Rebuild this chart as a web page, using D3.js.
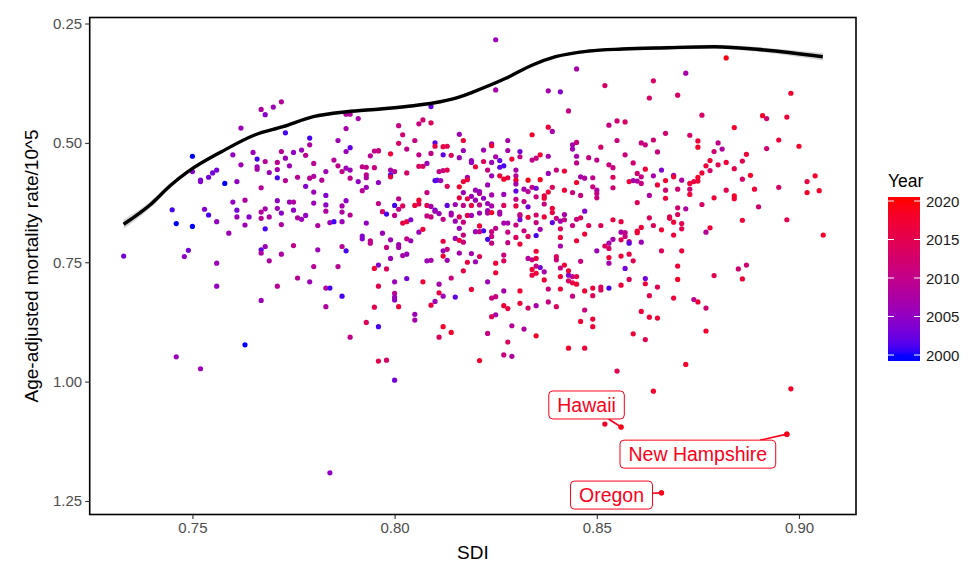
<!DOCTYPE html>
<html>
<head>
<meta charset="utf-8">
<script src="https://cdn.jsdelivr.net/npm/d3@7"></script>
<style>
  body { margin: 0; background: #fff; }
  svg { font-family: "Liberation Sans", Arial, sans-serif; }
</style>
</head>
<body>
<svg id="chart" width="972" height="571"></svg>
<script>
// one row per state-year: [SDI, age-adjusted mortality rate /10^5, year]
const stateYears = [
  [0.767,0.430,2008],[0.770,0.425,2006],[0.768,0.441,2004],[0.772,0.414,2009],[0.762,0.469,2006],
  [0.750,0.528,2000],[0.760,0.525,2005],[0.765,0.520,2006],[0.766,0.534,2001],[0.768,0.539,2009],
  [0.772,0.518,2009],[0.771,0.541,2009],[0.762,0.546,2006],[0.766,0.550,2006],[0.766,0.555,2007],
  [0.769,0.562,2006],[0.771,0.556,2007],[0.771,0.573,2001],[0.750,0.560,2004],[0.756,0.557,2003],
  [0.755,0.563,2003],[0.754,0.572,2003],[0.752,0.578,2003],[0.758,0.585,2000],[0.761,0.581,2005],
  [0.773,0.479,2001],
  [0.773,0.532,2006],[0.774,0.548,2006],[0.773,0.579,2009],[0.775,0.520,2005],[0.776,0.572,2009],
  [0.777,0.515,2006],[0.778,0.526,2009],[0.779,0.490,2001],[0.779,0.504,2008],[0.780,0.543,2009],
  [0.779,0.574,2009],[0.780,0.570,2008],[0.782,0.578,2009],[0.783,0.560,2006],[0.785,0.536,2009],
  [0.786,0.495,2006],[0.786,0.548,2010],[0.787,0.560,2010],[0.788,0.518,2006],[0.789,0.510,2002],
  [0.788,0.553,2006],[0.789,0.557,2006],[0.789,0.574,2010],[0.788,0.440,2009],[0.789,0.440,2008],
  [0.788,0.470,2007],[0.791,0.449,2007],[0.791,0.581,2005],[0.792,0.550,2010],[0.793,0.567,2010],
  [0.793,0.573,2008],[0.793,0.551,2010],[0.794,0.527,2009],[0.795,0.517,2010],[0.795,0.552,2011],
  [0.796,0.516,2010],[0.796,0.517,2011],[0.796,0.583,2005],[0.799,0.523,2017],[0.799,0.557,2007],
  [0.800,0.560,2009],[0.799,0.567,2001],[0.799,0.571,2016],[0.801,0.464,2011],[0.802,0.483,2012],
  [0.801,0.501,2013],[0.803,0.563,2013],[0.803,0.513,2010],[0.805,0.495,2011],[0.806,0.460,2011],
  [0.807,0.452,2012],[0.809,0.458,2014],[0.809,0.424,2002],[0.806,0.525,2010],[0.806,0.549,2014],
  [0.807,0.549,2013],[0.808,0.543,2006],[0.810,0.500,2002],[0.809,0.522,2010],[0.810,0.507,2016],
  [0.812,0.508,2016],[0.813,0.507,2015],[0.812,0.525,2002],[0.814,0.526,2014],[0.811,0.560,2010],
  [0.812,0.558,2011],[0.813,0.557,2015],[0.810,0.579,2001],[0.8105,0.578,2002],[0.8114,0.579,2006],
  [0.816,0.482,2006],[0.817,0.495,2017],[0.817,0.516,2006],[0.816,0.531,2006],[0.819,0.537,2006],
  [0.819,0.541,2005],[0.820,0.550,2017],[0.818,0.572,2006],[0.818,0.577,2016],[0.817,0.581,2017],
  [0.825,0.284,2006],[0.825,0.389,2007],[0.845,0.345,2007],[0.852,0.380,2013],[0.864,0.370,2013],
  [0.863,0.406,2013],[0.838,0.391,2007],[0.841,0.393,2004],[0.843,0.433,2010],[0.853,0.463,2011],
  [0.855,0.454,2012],[0.857,0.456,2013],[0.834,0.483,2018],[0.838,0.467,2017],[0.839,0.476,2007],
  [0.828,0.495,2007],[0.824,0.502,2007],[0.824,0.506,2017],[0.822,0.515,2006],[0.828,0.516,2007],
  [0.831,0.518,2003],[0.825,0.529,2007],[0.826,0.537,2002],[0.824,0.541,2006],[0.822,0.539,2014],
  [0.827,0.548,2001],[0.826,0.551,2002],[0.829,0.534,2017],[0.831,0.529,2010],[0.834,0.536,2010],
  [0.835,0.532,2011],[0.836,0.525,2017],[0.838,0.528,2007],[0.823,0.557,2011],[0.824,0.569,2006],
  [0.826,0.569,2017],[0.830,0.557,2007],[0.830,0.569,2009],[0.827,0.576,2018],[0.828,0.573,2016],
  [0.830,0.578,2018],[0.833,0.578,2019],[0.836,0.577,2019],[0.838,0.564,2006],[0.840,0.557,2011],
  [0.842,0.559,2017],[0.844,0.504,2007],[0.844,0.513,2006],[0.845,0.499,2011],[0.845,0.528,2007],
  [0.845,0.542,2010],[0.848,0.531,2011],[0.850,0.536,2010],[0.851,0.509,2013],[0.853,0.546,2011],
  [0.854,0.552,2011],[0.855,0.495,2011],[0.857,0.525,2011],[0.859,0.542,2012],[0.861,0.500,2011],
  [0.862,0.504,2011],[0.864,0.494,2012],[0.865,0.519,2011],[0.867,0.480,2012],[0.866,0.557,2004],
  [0.862,0.555,2017],[0.860,0.564,2012],[0.861,0.571,2011],[0.864,0.569,2007],[0.846,0.571,2007],
  [0.847,0.574,2008],[0.849,0.573,2010],[0.854,0.572,2014],[0.858,0.581,2017],[0.859,0.579,2007],
  [0.860,0.580,2008],[0.861,0.585,2011],[0.845,0.583,2018],[0.867,0.579,2018],
  [0.882,0.322,2019],[0.872,0.354,2007],[0.870,0.400,2013],[0.898,0.396,2018],[0.876,0.442,2013],
  [0.891,0.443,2018],[0.892,0.449,2012],[0.897,0.446,2017],[0.884,0.468,2018],[0.873,0.484,2013],
  [0.875,0.496,2017],[0.875,0.509,2018],[0.880,0.500,2010],[0.881,0.513,2008],[0.879,0.518,2012],
  [0.887,0.524,2017],[0.886,0.538,2015],[0.895,0.494,2017],[0.892,0.512,2012],[0.900,0.507,2018],
  [0.878,0.537,2017],[0.877,0.548,2017],[0.878,0.558,2013],[0.880,0.546,2015],[0.882,0.541,2017],
  [0.884,0.554,2015],[0.876,0.563,2017],[0.875,0.572,2018],[0.875,0.580,2017],[0.874,0.581,2016],
  [0.869,0.568,2006],[0.869,0.571,2017],[0.871,0.578,2008],[0.888,0.568,2018],[0.886,0.576,2013],
  [0.904,0.569,2018],[0.902,0.581,2016],
  [0.745,0.640,2001],[0.746,0.669,2000],[0.750,0.675,2000],[0.733,0.737,2003],[0.749,0.725,2003],
  [0.748,0.738,2005],[0.752,0.581,2004],[0.767,0.594,2009],[0.753,0.639,2004],[0.754,0.651,2001],
  [0.756,0.665,2005],[0.759,0.689,2006],[0.760,0.624,2005],[0.761,0.641,2003],[0.763,0.620,2008],
  [0.761,0.655,2006],[0.764,0.655,2004],[0.763,0.672,2006],[0.768,0.638,2007],[0.767,0.645,2008],
  [0.767,0.658,2009],[0.769,0.655,2008],[0.771,0.637,2006],[0.771,0.621,2005],[0.772,0.647,2004],
  [0.772,0.671,2008],[0.768,0.680,2001],[0.768,0.717,2006],[0.767,0.724,2002],[0.767,0.731,2008],
  [0.769,0.747,2008],[0.772,0.733,2008],[0.756,0.752,2006],[0.756,0.800,2005],[0.771,0.800,2009],
  [0.767,0.830,2006],[0.763,0.923,2000],
  [0.778,0.591,2004],[0.780,0.603,2006],[0.783,0.610,2004],[0.774,0.624,2006],[0.775,0.624,2008],
  [0.775,0.641,2005],[0.780,0.626,2006],[0.783,0.630,2005],[0.783,0.643,2008],[0.787,0.632,2007],
  [0.787,0.645,2008],[0.788,0.621,2005],[0.776,0.657,2008],[0.777,0.660,2006],[0.778,0.652,2005],
  [0.781,0.673,2008],[0.784,0.667,2006],[0.785,0.665,2001],[0.787,0.665,2006],[0.789,0.651,2009],
  [0.792,0.600,2009],[0.793,0.593,2006],[0.796,0.627,2010],[0.793,0.668,2005],[0.797,0.644,2013],
  [0.798,0.649,2001],[0.800,0.631,2001],[0.801,0.639,2010],[0.802,0.632,2014],[0.801,0.617,2010],
  [0.800,0.652,2010],[0.802,0.668,2016],[0.803,0.665,2016],[0.804,0.661,2004],[0.805,0.631,2017],
  [0.806,0.620,2018],[0.806,0.628,2015],[0.808,0.604,2011],[0.808,0.631,2015],[0.809,0.633,2007],
  [0.810,0.641,2002],[0.810,0.643,2006],[0.808,0.653,2011],[0.809,0.655,2011],[0.811,0.648,2006],
  [0.813,0.591,2014],[0.816,0.592,2018],[0.817,0.604,2006],[0.816,0.615,2016],[0.818,0.617,2016],
  [0.813,0.631,2002],[0.815,0.629,2006],[0.817,0.631,2010],[0.819,0.612,2006],[0.819,0.631,2016],
  [0.814,0.647,2006],[0.814,0.651,2007],[0.816,0.655,2014],[0.818,0.652,2016],[0.819,0.652,2006],
  [0.812,0.660,2010],[0.815,0.664,2006],[0.817,0.666,2011],[0.820,0.686,2006],[0.816,0.679,2006],
  [0.817,0.693,2011],[0.815,0.700,2006],[0.816,0.704,2017],[0.817,0.708,2011],[0.812,0.706,2016],
  [0.813,0.723,2011],[0.812,0.726,2006],[0.812,0.737,2017],[0.813,0.746,2006],[0.816,0.731,2007],
  [0.819,0.732,2007],[0.818,0.750,2016],[0.820,0.749,2006],[0.817,0.768,2016],[0.814,0.783,2011],
  [0.819,0.807,2017],[0.815,0.823,2002],[0.811,0.814,2016],[0.812,0.821,2006],[0.810,0.832,2006],
  [0.809,0.840,2016],[0.811,0.796,2007],[0.807,0.791,2017],[0.812,0.885,2018],[0.814,0.897,2018],
  [0.811,0.907,2014],[0.805,0.859,2006],[0.805,0.871,2007],[0.803,0.784,2003],[0.806,0.687,2006],
  [0.807,0.681,2017],[0.804,0.705,2006],[0.803,0.701,2010],[0.801,0.713,2006],[0.801,0.719,2007],
  [0.798,0.719,2011],[0.799,0.703,2006],[0.797,0.689,2006],[0.792,0.695,2004],[0.792,0.701,2004],
  [0.794,0.710,2010],[0.794,0.705,2010],[0.802,0.736,2007],[0.803,0.733,2006],[0.799,0.742,2006],
  [0.808,0.747,2006],[0.809,0.746,2007],[0.796,0.756,2004],[0.795,0.763,2017],[0.798,0.764,2014],
  [0.800,0.791,2006],[0.796,0.800,2015],[0.800,0.815,2009],[0.800,0.823,2006],[0.800,0.829,2005],
  [0.801,0.843,2017],[0.795,0.844,2015],[0.793,0.876,2014],[0.796,0.885,2001],[0.789,0.907,2010],
  [0.787,0.717,2009],[0.788,0.726,2001],[0.781,0.724,2006],[0.775,0.715,2010],[0.780,0.759,2009],
  [0.786,0.759,2009],[0.776,0.783,2009],[0.779,0.791,2006],[0.783,0.804,2009],[0.784,0.804,2001],
  [0.787,0.821,2001],[0.783,0.843,2008],
  [0.823,0.588,2006],[0.820,0.599,2006],[0.821,0.606,2010],[0.821,0.602,2006],[0.820,0.620,2006],
  [0.822,0.616,2005],[0.824,0.609,2007],[0.823,0.627,2006],[0.824,0.632,2007],[0.821,0.630,2010],
  [0.821,0.647,2006],[0.823,0.642,2006],[0.823,0.647,2007],[0.824,0.646,2018],[0.826,0.645,2007],
  [0.826,0.649,2007],[0.827,0.631,2014],[0.827,0.608,2006],[0.830,0.586,2007],[0.830,0.601,2002],
  [0.830,0.618,2011],[0.832,0.597,2007],[0.833,0.602,2009],[0.834,0.593,2010],[0.835,0.595,2003],
  [0.835,0.613,2011],[0.837,0.611,2016],[0.837,0.616,2017],[0.837,0.628,2011],[0.838,0.603,2017],
  [0.839,0.593,2014],[0.833,0.634,2003],[0.832,0.623,2010],[0.830,0.632,2016],[0.831,0.650,2011],
  [0.831,0.653,2010],[0.831,0.661,2003],[0.830,0.672,2011],[0.828,0.668,2007],[0.827,0.668,2007],
  [0.825,0.679,2010],[0.824,0.686,2011],[0.824,0.696,2011],[0.822,0.684,2001],[0.823,0.702,2001],
  [0.824,0.710,2011],[0.821,0.686,2010],[0.821,0.674,2017],[0.828,0.687,2011],[0.830,0.698,2014],
  [0.828,0.709,2011],[0.831,0.712,2017],[0.832,0.684,2011],[0.833,0.696,2014],[0.835,0.694,2001],
  [0.836,0.681,2007],[0.835,0.667,2011],[0.833,0.656,2017],[0.835,0.651,2013],[0.837,0.655,2017],
  [0.839,0.646,2016],[0.839,0.637,2017],[0.839,0.667,2002],[0.840,0.658,2011],[0.841,0.664,2007],
  [0.842,0.661,2010],[0.841,0.680,2014],[0.841,0.698,2017],[0.841,0.716,2007],[0.842,0.650,2007],
  [0.844,0.673,2011],[0.845,0.660,2011],[0.846,0.657,2014],[0.847,0.643,2004],[0.848,0.673,2014],
  [0.845,0.705,2017],[0.847,0.691,2017],[0.842,0.599,2017],[0.844,0.604,2011],[0.846,0.610,2011],
  [0.849,0.592,2011],[0.850,0.599,2008],[0.850,0.606,2010],[0.850,0.615,2011],[0.854,0.594,2012],
  [0.865,0.588,2017],[0.867,0.599,2012],[0.867,0.616,2017],[0.863,0.610,2008],[0.860,0.625,2014],
  [0.851,0.673,2014],[0.854,0.661,2016],[0.856,0.665,2016],[0.856,0.687,2007],[0.857,0.688,2010],
  [0.857,0.696,2011],[0.858,0.707,2011],[0.858,0.710,2002],[0.860,0.685,2016],[0.860,0.688,2017],
  [0.861,0.677,2017],[0.861,0.708,2006],[0.863,0.657,2014],[0.864,0.673,2014],[0.866,0.682,2017],
  [0.866,0.726,2014],[0.856,0.703,2014],[0.854,0.702,2007],[0.853,0.710,2007],[0.852,0.716,2014],
  [0.853,0.721,2013],[0.850,0.726,2006],[0.853,0.740,2017],[0.853,0.752,2007],[0.856,0.737,2017],
  [0.858,0.733,2016],[0.859,0.747,2015],[0.857,0.763,2003],[0.858,0.786,2014],[0.862,0.784,2003],
  [0.862,0.795,2017],[0.865,0.802,2015],[0.863,0.820,2015],[0.856,0.798,2017],[0.853,0.804,2001],
  [0.851,0.802,2014],[0.851,0.808,2014],[0.849,0.804,2017],[0.849,0.820,2014],[0.847,0.810,2017],
  [0.847,0.850,2011],[0.849,0.869,2017],[0.849,0.885,2017],[0.846,0.874,2017],[0.861,0.853,2017],
  [0.863,0.865,2017],[0.865,0.867,2017],[0.859,0.900,2017],[0.862,0.912,2015],[0.846,0.748,2011],
  [0.845,0.780,2016],[0.844,0.780,2011],[0.844,0.793,2016],[0.845,0.796,2017],[0.843,0.777,2004],
  [0.841,0.780,2017],[0.843,0.789,2014],[0.844,0.821,2011],[0.843,0.768,2017],[0.842,0.756,2017],
  [0.841,0.762,2011],[0.840,0.745,2011],[0.840,0.738,2014],[0.841,0.806,2017],[0.838,0.806,2011],
  [0.837,0.787,2017],[0.835,0.773,2017],[0.837,0.770,2007],[0.836,0.761,2003],[0.835,0.758,2011],
  [0.834,0.765,2017],[0.834,0.777,2016],[0.833,0.742,2008],[0.834,0.745,2011],[0.835,0.742,2016],
  [0.835,0.727,2017],[0.831,0.810,2017],[0.831,0.836,2017],[0.827,0.810,2007],[0.825,0.822,2011],
  [0.824,0.825,2011],[0.827,0.841,2017],[0.828,0.847,2016],[0.823,0.791,2006],[0.825,0.772,2017],
  [0.825,0.752,2017],[0.827,0.747,2014],[0.827,0.735,2011],[0.821,0.738,2014],[0.833,0.846,2013],
  [0.835,0.841,2007],[0.838,0.833,2011],[0.840,0.843,2014],[0.835,0.904,2018],[0.832,0.890,2008],
  [0.829,0.883,2009],[0.825,0.860,2007],[0.824,0.864,2014],[0.823,0.899,2011],[0.828,0.917,2014],
  [0.843,0.930,2018],[0.847,0.930,2017],
  [0.873,0.585,2017],[0.870,0.597,2012],[0.873,0.597,2012],[0.873,0.608,2017],[0.879,0.615,2017],
  [0.882,0.599,2015],[0.884,0.617,2017],[0.884,0.611,2018],[0.889,0.597,2017],[0.895,0.593,2013],
  [0.902,0.604,2018],[0.905,0.600,2018],[0.890,0.634,2012],[0.876,0.629,2013],[0.870,0.636,2012],
  [0.872,0.638,2008],[0.870,0.650,2014],[0.868,0.655,2014],[0.868,0.658,2015],[0.869,0.666,2017],
  [0.871,0.669,2015],[0.871,0.680,2015],[0.869,0.693,2017],[0.878,0.678,2017],[0.877,0.687,2009],
  [0.886,0.662,2017],[0.897,0.661,2015],[0.906,0.693,2018],[0.871,0.726,2017],[0.870,0.758,2017],
  [0.870,0.786,2018],[0.879,0.778,2015],[0.885,0.764,2012],[0.887,0.756,2012],[0.886,0.785,2017],
  [0.869,0.825,2017],[0.874,0.828,2009],[0.875,0.833,2017],[0.877,0.846,2012],[0.877,0.894,2018],
  [0.746,0.948,2006],[0.752,0.973,2006],
  [0.796,0.957,2015],[0.798,0.955,2013],[0.800,0.997,2003],[0.784,1.191,2005],
  [0.821,0.956,2018],[0.827,0.944,2011],[0.829,0.947,2008],[0.855,0.978,2015],[0.864,1.020,2018],
  [0.852,1.089,2018],[0.856,1.095,2019],[0.866,1.233,2019],
  [0.872,0.964,2018],[0.898,1.015,2018],[0.897,1.110,2019]
];

// loess trend: SDI, fitted rate, half-width of the grey band
const trendSdi  = [0.7330,0.7395,0.7447,0.7489,0.7572,0.7654,0.7724,0.7799,0.7882,0.7965,0.8047,0.8113,
                   0.8163,0.8192,0.8275,0.8341,0.8398,0.8481,0.8563,0.8675,0.8791,0.8915,0.9059];
const trendRate = [0.6705,0.6301,0.5882,0.5603,0.5185,0.4835,0.4661,0.4452,0.4347,0.4290,0.4221,0.4138,
                   0.4033,0.3941,0.3648,0.3369,0.3195,0.3076,0.3034,0.3007,0.2986,0.3055,0.3195];
const trendBand = [0.010,0.007,0.005,0.004,0.003,0.003,0.003,0.003,0.003,0.003,0.003,0.003,
                   0.003,0.003,0.003,0.003,0.003,0.003,0.003,0.004,0.004,0.005,0.008];

const xTicks = [0.75, 0.80, 0.85, 0.90];
const yTicks = [0.25, 0.50, 0.75, 1.00, 1.25];
const yearTicks = [2000, 2005, 2010, 2015, 2020];

const labelled = [
  { name: "Hawaii",        sdi: 0.856, rate: 1.095, year: 2019 },
  { name: "New Hampshire", sdi: 0.897, rate: 1.110, year: 2019 },
  { name: "Oregon",        sdi: 0.866, rate: 1.233, year: 2019 }
];

// ---- layout
const W = 972, H = 571;
const panel = { left: 89.7, right: 856, top: 17.5, bottom: 514.5 };

const svg = d3.select("#chart");

const x = d3.scaleLinear().domain([0.7246, 0.9141]).range([panel.left, panel.right]);
const y = d3.scaleLinear().domain([0.2374, 1.2783]).range([panel.top, panel.bottom]);
const colour = d3.scaleLinear().domain([2000, 2020]).range(["blue", "red"])
  .interpolate(d3.interpolateLab).clamp(true);

svg.append("rect").attr("width", W).attr("height", H).attr("fill", "#fff");

// points
svg.append("g")
  .selectAll("circle")
  .data(stateYears)
  .join("circle")
  .attr("cx", d => x(d[0]))
  .attr("cy", d => y(d[1]))
  .attr("r", 2.6)
  .attr("fill", d => colour(d[2]));

// smooth + band
const trend = trendSdi.map((s, i) => ({ sdi: s, rate: trendRate[i], se: trendBand[i] }));

svg.append("path")
  .datum(trend)
  .attr("fill", "#999")
  .attr("fill-opacity", 0.4)
  .attr("d", d3.area()
    .x(d => x(d.sdi))
    .y0(d => y(d.rate - d.se))
    .y1(d => y(d.rate + d.se))
    .curve(d3.curveMonotoneX));

svg.append("path")
  .datum(trend)
  .attr("fill", "none")
  .attr("stroke", "#000")
  .attr("stroke-width", 3.4)
  .attr("d", d3.line()
    .x(d => x(d.sdi))
    .y(d => y(d.rate))
    .curve(d3.curveMonotoneX));

// repelled labels (offsets of the label centre from its point, px)
const labelOffset = { "Hawaii": [-34.5, -22], "New Hampshire": [-89, 20], "Oregon": [-50, 2.2] };

labelled.forEach(d => {
  const px = x(d.sdi), py = y(d.rate);
  const [dx, dy] = labelOffset[d.name];
  const cx = px + dx, cy = py + dy;
  const col = colour(d.year);
  const g = svg.append("g");

  const seg = g.append("line").attr("stroke", col).attr("stroke-width", 1.6);
  const box = g.append("rect");
  const txt = g.append("text")
    .attr("x", cx).attr("y", cy)
    .attr("text-anchor", "middle")
    .attr("dominant-baseline", "central")
    .attr("font-size", 19.5)
    .attr("fill", col)
    .text(d.name);

  const tw = txt.node().getComputedTextLength();
  const bw = tw + 17, bh = 28;
  box.attr("x", cx - bw / 2).attr("y", cy - bh / 2)
    .attr("width", bw).attr("height", bh)
    .attr("rx", 4).attr("ry", 4)
    .attr("fill", "#fff").attr("stroke", col).attr("stroke-width", 1);

  // segment from box edge to the point
  const vx = px - cx, vy = py - cy;
  const t = Math.min(Math.abs(vx) > 0 ? (bw / 2) / Math.abs(vx) : Infinity,
                     Math.abs(vy) > 0 ? (bh / 2) / Math.abs(vy) : Infinity);
  seg.attr("x1", cx + vx * t).attr("y1", cy + vy * t).attr("x2", px).attr("y2", py);
  g.append("circle").attr("cx", px).attr("cy", py).attr("r", 2.6).attr("fill", col);
});

// panel border
svg.append("rect")
  .attr("x", panel.left).attr("y", panel.top)
  .attr("width", panel.right - panel.left).attr("height", panel.bottom - panel.top)
  .attr("fill", "none").attr("stroke", "#000").attr("stroke-width", 1.6);

// axes
const xAxis = svg.append("g")
  .attr("transform", `translate(0,${panel.bottom})`)
  .call(d3.axisBottom(x).tickValues(xTicks).tickFormat(d3.format(".2f")).tickSizeOuter(0).tickSize(4.5).tickPadding(3));
const yAxis = svg.append("g")
  .attr("transform", `translate(${panel.left},0)`)
  .call(d3.axisLeft(y).tickValues(yTicks).tickFormat(d3.format(".2f")).tickSizeOuter(0).tickSize(4.5).tickPadding(3));

[xAxis, yAxis].forEach(a => {
  a.select(".domain").remove();
  a.selectAll(".tick line").attr("stroke", "#333").attr("stroke-width", 1.1);
  a.selectAll(".tick text").attr("fill", "#4d4d4d").attr("font-size", 15)
    .attr("font-family", "Liberation Sans, Arial, sans-serif");
});

svg.append("text")
  .attr("x", (panel.left + panel.right) / 2).attr("y", 559)
  .attr("text-anchor", "middle").attr("font-size", 19).attr("fill", "#000")
  .text("SDI");

svg.append("text")
  .attr("transform", `translate(31,${(panel.top + panel.bottom) / 2}) rotate(-90)`)
  .attr("text-anchor", "middle").attr("dominant-baseline", "central")
  .attr("font-size", 19).attr("fill", "#000")
  .text("Age-adjusted mortality rate/10^5");

// legend colourbar
const bar = { x: 888, w: 32, top: 197, bottom: 361 };
const ly = d3.scaleLinear().domain([2000, 2020]).range([355, 201]);

const grad = svg.append("defs").append("linearGradient")
  .attr("id", "yearGrad").attr("x1", 0).attr("y1", 1).attr("x2", 0).attr("y2", 0);
d3.range(0, 1.0001, 0.02).forEach(o => {
  const yr = ly.invert(bar.bottom - o * (bar.bottom - bar.top));
  grad.append("stop").attr("offset", o).attr("stop-color", colour(yr));
});

svg.append("text")
  .attr("x", bar.x).attr("y", 187)
  .attr("font-size", 17.5).attr("fill", "#000")
  .text("Year");

svg.append("rect")
  .attr("x", bar.x).attr("y", bar.top)
  .attr("width", bar.w).attr("height", bar.bottom - bar.top)
  .attr("fill", "url(#yearGrad)");

const legendTicks = svg.append("g");
yearTicks.forEach(yr => {
  const yy = ly(yr);
  legendTicks.append("line").attr("x1", bar.x).attr("x2", bar.x + 6)
    .attr("y1", yy).attr("y2", yy).attr("stroke", "#fff").attr("stroke-width", 1);
  legendTicks.append("line").attr("x1", bar.x + bar.w - 6).attr("x2", bar.x + bar.w)
    .attr("y1", yy).attr("y2", yy).attr("stroke", "#fff").attr("stroke-width", 1);
  legendTicks.append("text")
    .attr("x", bar.x + bar.w + 6).attr("y", yy)
    .attr("dominant-baseline", "central")
    .attr("font-size", 15).attr("fill", "#1a1a1a")
    .text(yr);
});
</script>
</body>
</html>
